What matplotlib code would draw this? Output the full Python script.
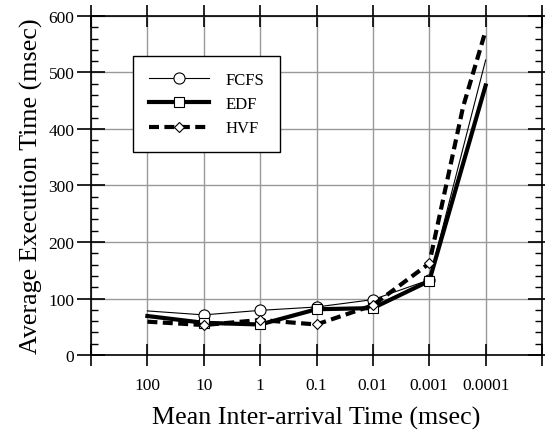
import numpy as np
import matplotlib
matplotlib.use("Agg")
import matplotlib.pyplot as plt
from matplotlib.ticker import FixedLocator, MultipleLocator, NullLocator

# mean inter-arrival time (msec)
x_vals = [100, 10, 1, 0.1, 0.01, 0.001, 0.0001]
x_hvf = [100, 10, 1, 0.1, 0.01, 0.001, 0.00025, 0.0001]
tick_vals = [1000, 100, 10, 1, 0.1, 0.01, 0.001, 0.0001, 0.00001]
tick_labels = ["", "100", "10", "1", "0.1", "0.01", "0.001", "0.0001", ""]

fcfs = [78, 71, 79, 85, 98, 133, 522]
edf = [69, 57, 54, 81, 83, 131, 477]
hvf = [59, 53, 62, 54, 88, 162, 440, 574]

plt.rcParams["font.family"] = ["Liberation Serif", "DejaVu Serif"]

fig = plt.figure(figsize=(5.45, 4.31), dpi=100)
ax = fig.add_axes([0.167, 0.174, 0.8275, 0.7866])

ax.plot(x_vals, fcfs, color="k", lw=0.8, marker="o", ms=8, mfc="white",
        mec="k", mew=0.8, markevery=[1, 2, 3, 4, 5], label="FCFS", zorder=3)
ax.plot(x_vals, edf, color="k", lw=3, marker="s", ms=7, mfc="white",
        mec="k", mew=0.8, markevery=[1, 2, 3, 4, 5], label="EDF", zorder=4)
ax.plot(x_hvf, hvf, color="k", lw=3, ls=(0, (2.4, 1.3)), marker="D", ms=5.5,
        mfc="white", mec="k", mew=0.8, markevery=[1, 2, 3, 4, 5],
        label="HVF", zorder=5)

ax.set_xscale("log")
ax.set_xlim(1000, 0.00001)
ax.set_ylim(0, 600)
ax.xaxis.set_major_locator(FixedLocator(tick_vals))
ax.set_xticklabels(tick_labels)
ax.xaxis.set_minor_locator(NullLocator())
ax.yaxis.set_major_locator(MultipleLocator(100))
ax.yaxis.set_minor_locator(MultipleLocator(20))

ax.grid(True, which="major", color="#999999", lw=1)
ax.set_axisbelow(True)
ax.tick_params(which="major", direction="inout", width=1.2,
               top=True, right=True, labelsize=12.5)
ax.tick_params(axis="x", which="major", length=16, pad=8)
ax.tick_params(axis="y", which="major", length=20, pad=2)
ax.tick_params(which="minor", direction="in", length=5, width=1,
               left=True, right=True)
for s in ax.spines.values():
    s.set_linewidth(1.2)

ax.set_xlabel("Mean Inter-arrival Time (msec)", fontsize=18.7, labelpad=9)
ax.set_ylabel("Average Execution Time (msec)", fontsize=18.7, labelpad=4)

leg = ax.legend(loc="upper left", bbox_to_anchor=(0.093, 0.882), fontsize=12,
                fancybox=False, framealpha=1, edgecolor="k", handlelength=3.6,
                borderpad=0.95, labelspacing=0.5, handletextpad=1.0,
                borderaxespad=0)
leg.get_frame().set_linewidth(1)

fig.savefig("out.png", dpi=100)
